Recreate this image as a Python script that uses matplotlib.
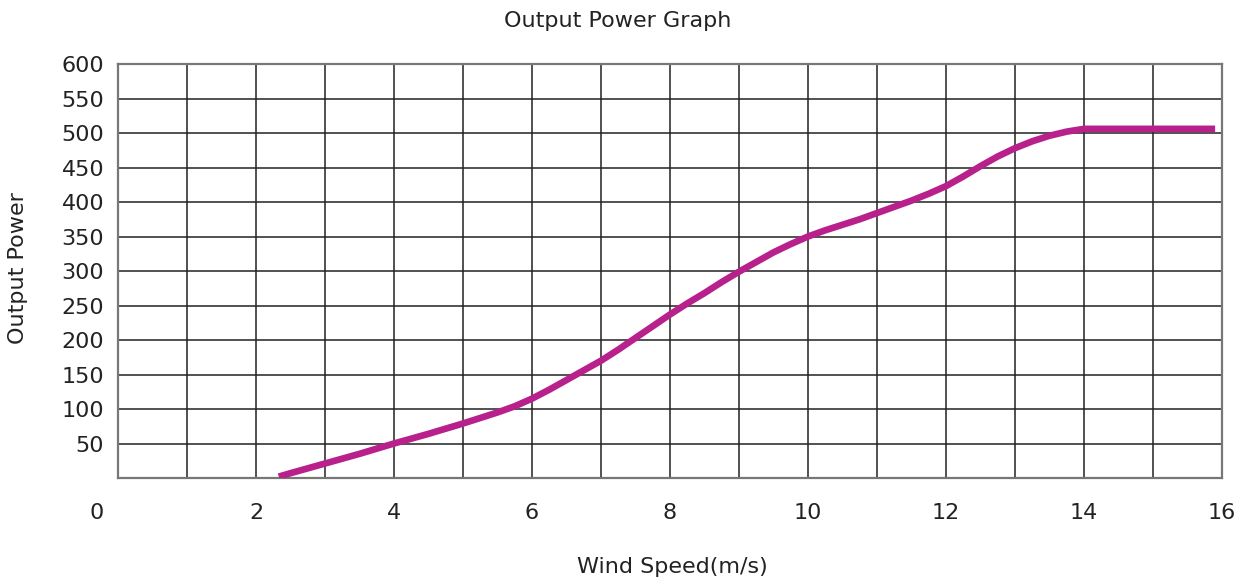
import matplotlib
matplotlib.use("Agg")
import matplotlib.pyplot as plt

plt.rcParams['font.family'] = ['DejaVu Sans']

wind_speed = [2.33, 2.5, 3, 3.5, 4, 4.5, 5, 5.25, 5.5, 5.75, 6, 6.25, 6.5, 6.75,
              7, 7.25, 7.5, 7.75, 8, 8.25, 8.5, 8.75, 9, 9.25, 9.5, 9.75,
              10, 10.25, 10.5, 10.75, 11, 11.25, 11.5, 11.75, 12, 12.25, 12.5,
              12.75, 13, 13.25, 13.5, 13.75, 14, 15.9]
output_power = [2, 7, 21, 35, 50, 64, 79, 87, 95, 104, 115, 128, 142, 156,
                170, 186, 203, 220, 237, 253, 268, 284, 299, 313, 327, 339,
                350, 359, 367, 375, 384, 393, 402, 412, 423, 437, 452,
                466, 478, 488, 496, 502, 506, 506]

x_ticks = [2, 4, 6, 8, 10, 12, 14, 16]
y_ticks = [50, 100, 150, 200, 250, 300, 350, 400, 450, 500, 550, 600]

fig = plt.figure(figsize=(12.44, 5.84), dpi=100)
ax = fig.add_axes([118/1244, 1-478/584, (1222-118)/1244, (478-64)/584])

ax.set_xlim(0, 16)
ax.set_ylim(0, 600)

for xv in range(1, 16):
    ax.axvline(xv, color='#222222', lw=1.1, zorder=1)
for yv in range(50, 600, 50):
    ax.axhline(yv, color='#222222', lw=1.1, zorder=1)

for s in ax.spines.values():
    s.set_color('#777777')
    s.set_linewidth(1.6)

ax.plot(wind_speed, output_power, color='#B8218C', lw=4.8, solid_capstyle='butt',
        solid_joinstyle='round', zorder=3)

ax.set_xticks(x_ticks)
ax.set_xticklabels([str(v) for v in x_ticks])
ax.set_yticks(y_ticks)
ax.set_yticklabels([str(v) for v in y_ticks])
ax.tick_params(axis='both', length=0, labelsize=16, colors='#222222')
ax.tick_params(axis='y', pad=10)
ax.tick_params(axis='x', pad=18)

ax.annotate('0', xy=(0, 0), xycoords='data', xytext=(-10, -18), textcoords='offset points',
            ha='right', va='top', fontsize=16, color='#222222')

fig.text(618/1244, 1-21/584, 'Output Power Graph', ha='center', va='center',
         fontsize=16, color='#222222')
fig.text(672/1244, 1-567/584, 'Wind Speed(m/s)', ha='center', va='center',
         fontsize=16, color='#222222')
fig.text(18/1244, 1-268/584, 'Output Power', ha='center', va='center',
         rotation=90, fontsize=16, color='#222222')

fig.savefig('out.png', dpi=100)
